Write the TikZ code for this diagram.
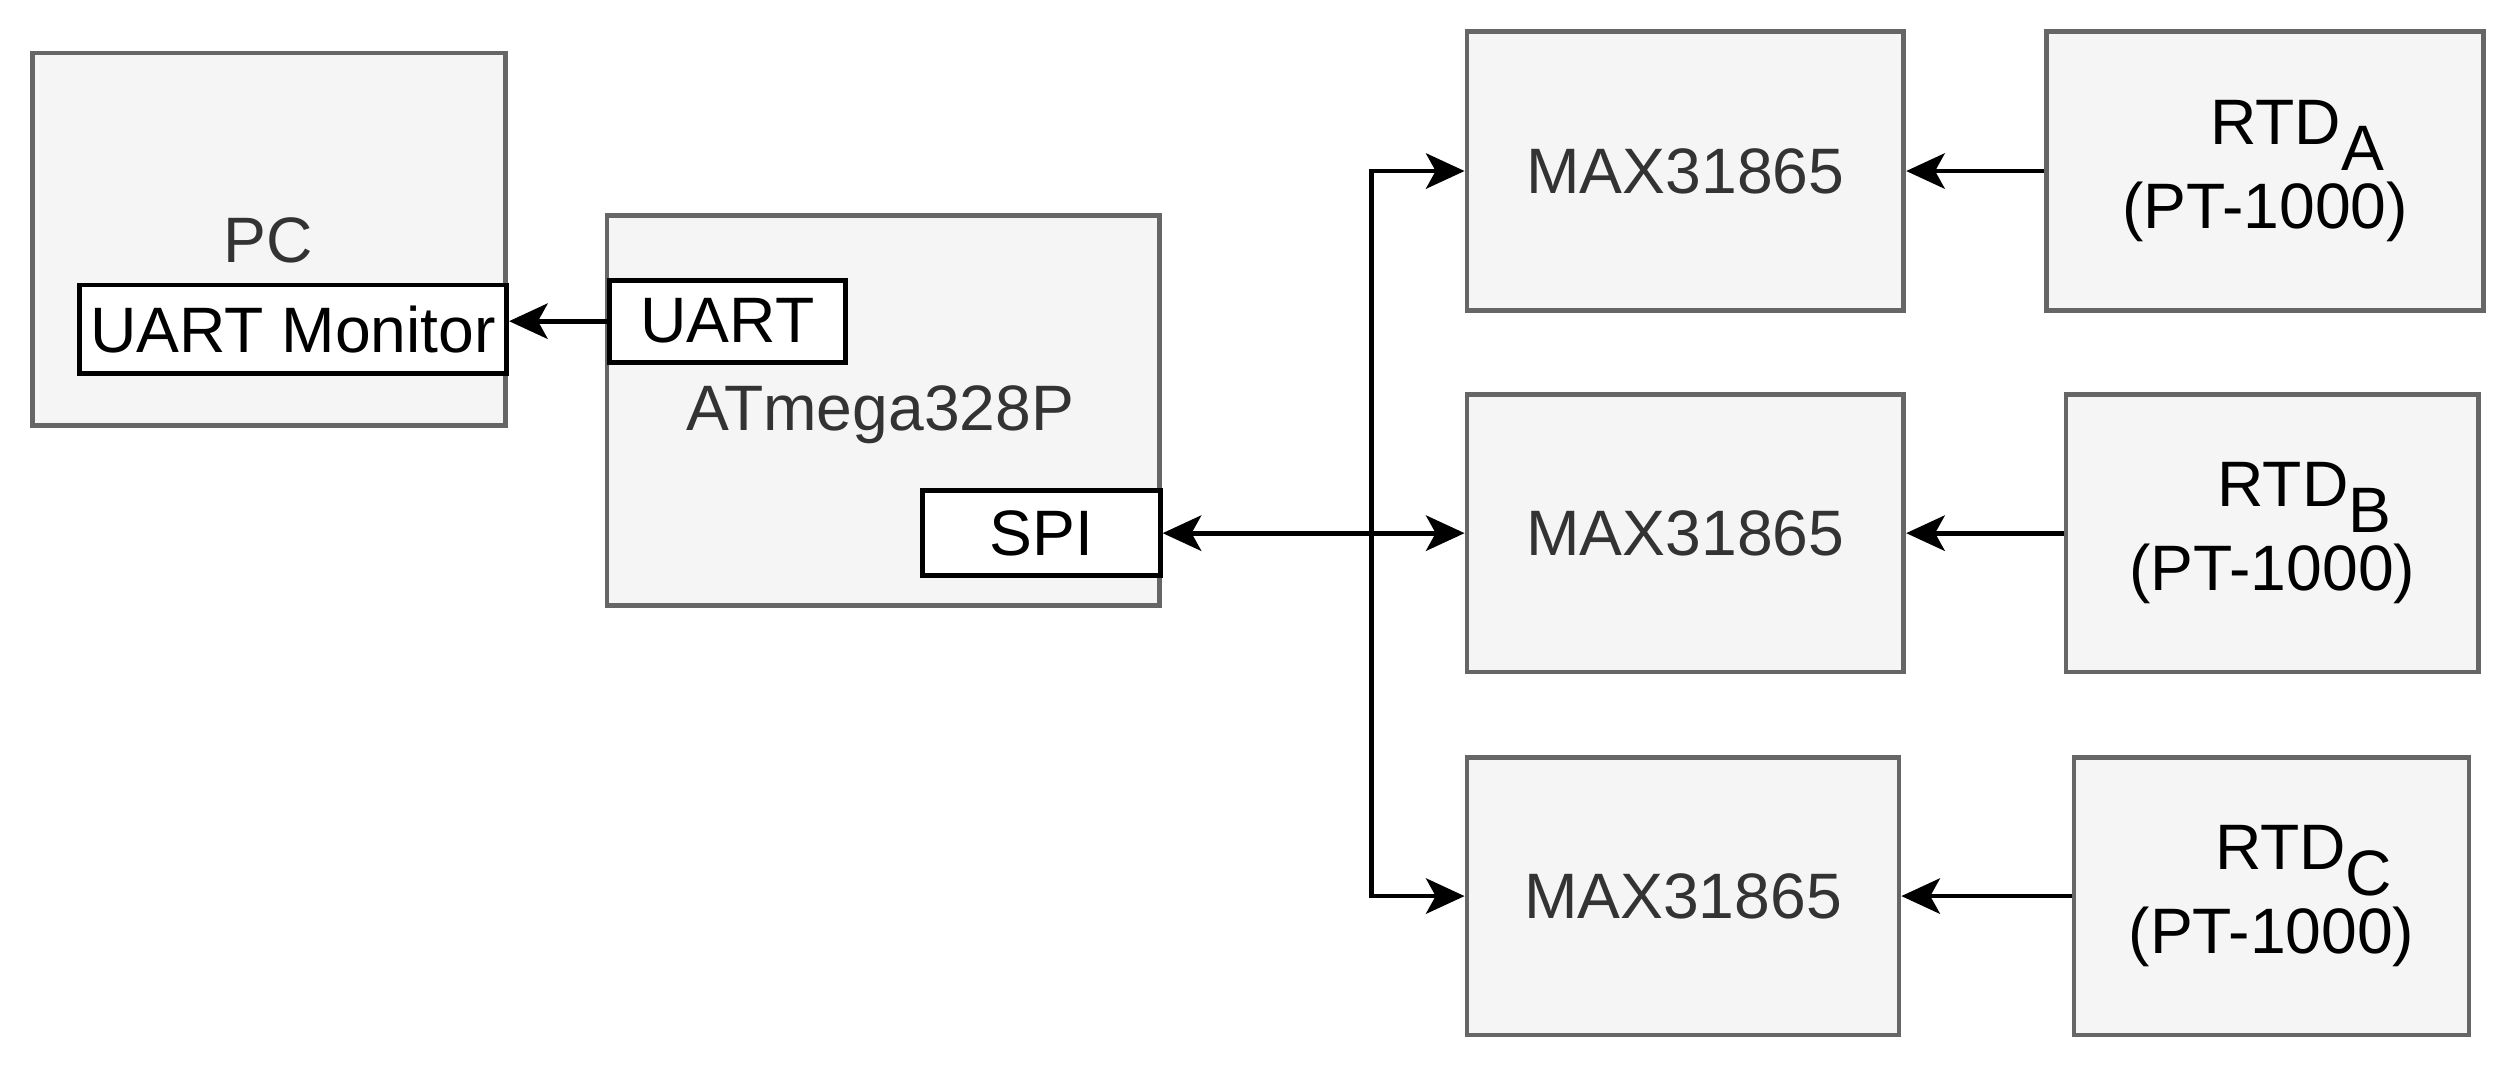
\documentclass[tikz,border=0pt]{standalone}
\usepackage{fontspec}
\setmainfont{Liberation Sans}
\usetikzlibrary{arrows.meta}
\definecolor{gfill}{HTML}{F5F5F5}
\definecolor{gline}{HTML}{666666}
\definecolor{gtext}{HTML}{333333}
\begin{document}
\begin{tikzpicture}[x=1pt,y=-1pt,
  gbox/.style={draw=gline,fill=gfill,line width=3pt,text=gtext},
  wbox/.style={draw=black,fill=white,line width=3pt,inner sep=0pt},
  arr/.style={line width=3pt,-{Stealth[length=24pt,width=22pt,inset=6pt]}},
  darr/.style={line width=3pt,{Stealth[length=24pt,width=22pt,inset=6pt]}-{Stealth[length=24pt,width=22pt,inset=6pt]}},
  every node/.style={font=\fontsize{40}{44}\selectfont}]
\useasboundingbox (0,0) rectangle (1568,666);
% PC
\path[gbox] (20,33) rectangle (315,265);
\node[text=gtext] (pc) at (167,150) {PC};
\node[wbox,minimum width=266pt,minimum height=55pt,anchor=north west] (mon) at (48,176) {UART Monitor};
% ATmega
\path[gbox] (378,134) rectangle (722,377);
\node[text=gtext] (atm) at (548,258) {ATmega328P};
\node[wbox,minimum width=147pt,minimum height=51pt,anchor=north west] (uart) at (378,173) {UART};
\node[wbox,minimum width=148pt,minimum height=53pt,anchor=north west] (spi) at (573,304) {SPI};
% MAX
\node[gbox,minimum width=272pt,minimum height=174pt,anchor=north west] (m1) at (912,18) {MAX31865};
\node[gbox,minimum width=272pt,minimum height=173pt,anchor=north west] (m2) at (912,244) {MAX31865};
\node[gbox,minimum width=269pt,minimum height=173pt,anchor=north west] (m3) at (912,470) {MAX31865};
% RTD
\node[gbox,text=black,minimum width=272pt,minimum height=174pt,anchor=north west,align=center] (r1) at (1273,18) {\hspace*{40pt}RTD\raisebox{-0.4em}{A}\\[6pt](PT-1000)};
\node[gbox,text=black,minimum width=257pt,minimum height=173pt,anchor=north west,align=center] (r2) at (1285,244) {\hspace*{40pt}RTD\raisebox{-0.4em}{B}\\[6pt](PT-1000)};
\node[gbox,text=black,minimum width=246pt,minimum height=173pt,anchor=north west,align=center] (r3) at (1290,470) {\hspace*{40pt}RTD\raisebox{-0.4em}{C}\\[6pt](PT-1000)};
% connectors
\coordinate (bus) at (854,331);
\draw[arr] (uart.west) -- (mon.east |- uart.west);
\draw[darr] (spi.east) -- (m2.west);
\draw[arr] (bus) |- (m1.west);
\draw[arr] (bus) |- (m3.west);
\draw[arr] (r1.west) -- (m1.east);
\draw[arr] (r2.west) -- (m2.east);
\draw[arr] (r3.west) -- (m3.east);
\end{tikzpicture}
\end{document}
